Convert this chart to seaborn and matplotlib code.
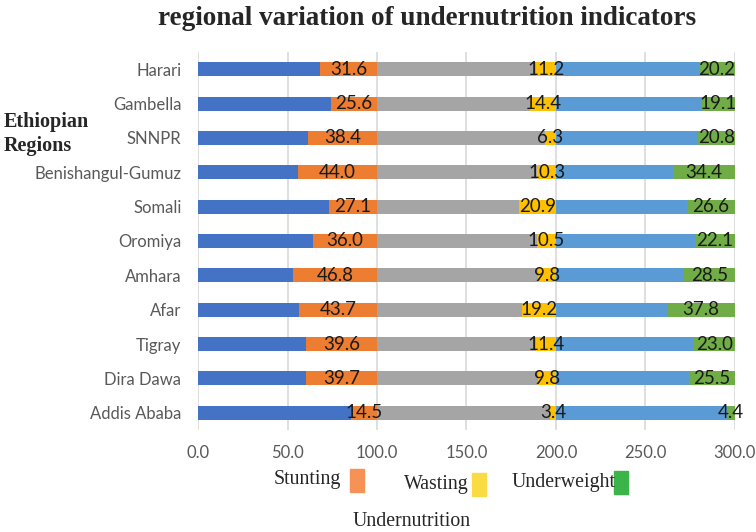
import seaborn as sns
import matplotlib.pyplot as plt
from matplotlib.patches import Rectangle
import numpy as np

# --- data ---
regions = ['Harari', 'Gambella', 'SNNPR', 'Benishangul-Gumuz', 'Somali', 'Oromiya',
           'Amhara', 'Afar', 'Tigray', 'Dira Dawa', 'Addis Ababa']
stunting = [31.6, 25.6, 38.4, 44.0, 27.1, 36.0, 46.8, 43.7, 39.6, 39.7, 14.5]
wasting = [11.2, 14.4, 6.3, 10.3, 20.9, 10.5, 9.8, 19.2, 11.4, 9.8, 3.4]
underweight = [20.2, 19.1, 20.8, 34.4, 26.6, 22.1, 28.5, 37.8, 23.0, 25.5, 4.4]
x_ticks = [0, 50, 100, 150, 200, 250, 300]

sns.set_theme(style="white")
plt.rcParams['font.family'] = ['Lato', 'DejaVu Sans']

fig = plt.figure(figsize=(7.56, 5.32), dpi=100)
ax = fig.add_axes([0.262, 0.192, 0.710, 0.710])

s = np.array(stunting)
w = np.array(wasting)
u = np.array(underweight)

# each indicator is a 100-wide block: remainder + indicator share
# drawn as overlaid cumulative bars, widest first
layers = [
    (300.0 + 0 * u, '#70AD47'),
    (300.0 - u, '#5B9BD5'),
    (200.0 + 0 * w, '#FFC000'),
    (200.0 - w, '#A5A5A5'),
    (100.0 + 0 * s, '#ED7D31'),
    (100.0 - s, '#4472C4'),
]
for vals, col in layers:
    sns.barplot(x=vals, y=regions, orient='h', color=col, saturation=1,
                width=0.4, errorbar=None, linewidth=0, ax=ax, zorder=2)

# value labels centered in each indicator segment
for i in range(len(regions)):
    for end, val in [(100, s[i]), (200, w[i]), (300, u[i])]:
        ax.text(end - val / 2, i, f'{val:.1f}', ha='center', va='center',
                fontsize=13.5, color='#1a1a1a', zorder=3)

ax.set_xlim(0, 300)
ax.set_ylim(len(regions) - 0.5, -0.5)
ax.set_xticks(x_ticks)
ax.set_xticklabels([f'{t:.1f}' for t in x_ticks])
ax.set_xlabel('')
ax.set_ylabel('')
ax.grid(axis='x', color='#D9D9D9', linewidth=1.2, zorder=0)
ax.set_axisbelow(True)
for sp in ax.spines.values():
    sp.set_visible(False)
ax.tick_params(axis='both', length=0, labelsize=12, colors='#595959')
ax.tick_params(axis='x', pad=11)
ax.tick_params(axis='y', pad=12)

serif = ['Liberation Serif', 'DejaVu Serif']
fig.text(0.565, 0.966, 'regional variation of undernutrition indicators',
         ha='center', va='center', fontsize=19.5, fontweight='bold', family=serif)
fig.text(0.005, 0.748, 'Ethiopian\nRegions', ha='left', va='center',
         fontsize=14.5, fontweight='bold', family=serif, linespacing=1.25)

# hand-made legend under the axis
legend_items = [('Stunting', '#F79256', 0.362, 0.098, 0.463),
                ('Wasting', '#FADB43', 0.535, 0.089, 0.624),
                ('Underweight', '#3BB54A', 0.677, 0.093, 0.812)]
for label, col, tx, ty, px in legend_items:
    fig.text(tx, ty, label, ha='left', va='center', fontsize=14.3, family=serif)
    fig.patches.append(Rectangle((px, ty - 0.022), 0.019, 0.043,
                                 transform=fig.transFigure, color=col))
fig.text(0.545, 0.019, 'Undernutrition', ha='center', va='center',
         fontsize=14.3, family=serif)

fig.savefig('out.png', dpi=100)
